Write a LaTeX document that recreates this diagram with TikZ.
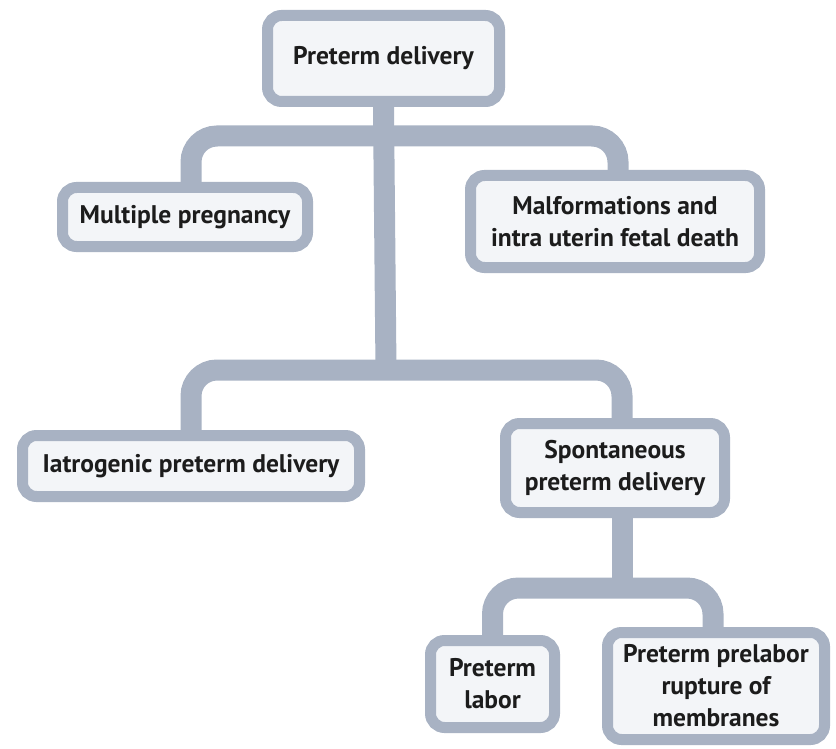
\documentclass[tikz,border=0pt]{standalone}
\usepackage{fontspec}
\setmainfont{PT Sans}
\usetikzlibrary{backgrounds}
\definecolor{bordergray}{HTML}{A8B2C3}
\definecolor{boxfill}{HTML}{F3F5F8}
\definecolor{txt}{HTML}{1C1C1C}
\tikzset{
  box/.style={draw=bordergray, line width=11pt, fill=boxfill, rounded corners=14pt,
    align=center, inner sep=0pt, text=txt, font=\fontsize{25.5}{32}\selectfont\bfseries},
  conn/.style={draw=bordergray, line width=21pt, rounded corners=26pt}
}
\begin{document}
\begin{tikzpicture}[x=1pt,y=-1pt]
\useasboundingbox (0,0) rectangle (836,749);
\node[box, minimum width=232pt, minimum height=86pt] (root) at (383.5,58.5) {Preterm delivery};
\node[box, minimum width=245pt, minimum height=59pt] (mp) at (185,217) {Multiple pregnancy};
\node[box, minimum width=289pt, minimum height=92pt] (mal) at (615,221.5) {Malformations and\\intra uterin fetal death};
\node[box, minimum width=337pt, minimum height=61pt] (iat) at (191,466) {Iatrogenic preterm delivery};
\node[box, minimum width=219pt, minimum height=89pt] (spon) at (615,468) {Spontaneous\\preterm delivery};
\node[box, minimum width=124pt, minimum height=87pt] (lab) at (492.5,684) {Preterm\\labor};
\node[box, minimum width=217pt, minimum height=107pt] (pprom) at (716,686) {Preterm prelabor\\rupture of\\membranes};
\coordinate (j1) at (385,136);
\coordinate (j2) at (386,370);
\coordinate (j3) at (622,588);
\begin{scope}[on background layer]
\draw[conn] (root.south) -- (j2);
\draw[conn] ([xshift=6pt]mp.north) |- (j1) -| ([xshift=3pt]mal.north);
\draw[conn] (iat.north) |- (j2) -| ([xshift=7pt]spon.north);
\draw[conn] ([xshift=7pt]spon.south) -- (j3);
\draw[conn] (lab.north) |- (j3) -| ([xshift=-3pt]pprom.north);
\end{scope}
\end{tikzpicture}
\end{document}
